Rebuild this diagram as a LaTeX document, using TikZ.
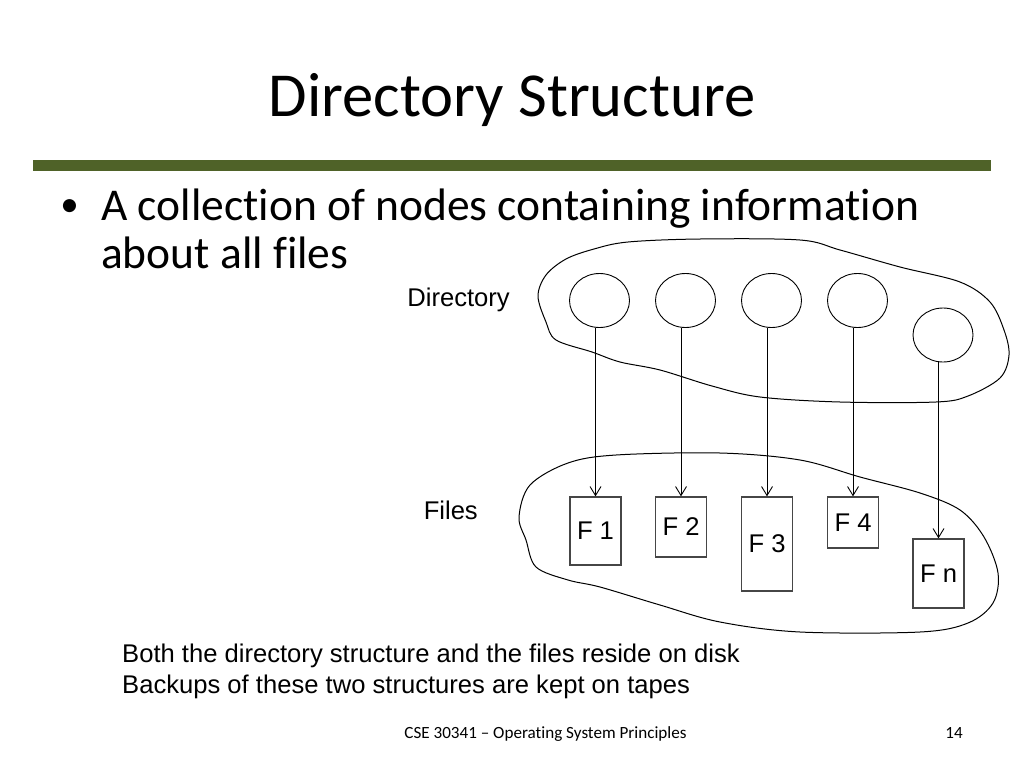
\documentclass[tikz,border=0pt]{standalone}
\usepackage{fontspec}
\setmainfont{Carlito}[Ligatures=NoCommon]
\newfontfamily\arial{Liberation Sans}
\usetikzlibrary{arrows.meta,shapes.geometric}
\definecolor{olivebar}{RGB}{79,98,40}
\definecolor{boxgray}{RGB}{70,70,70}
\tikzset{
  dirnode/.style={ellipse,draw=black,line width=0.9pt,minimum width=60pt,minimum height=54pt,inner sep=0pt},
  filebox/.style={rectangle,draw=boxgray,line width=1.3pt,minimum width=51pt,inner sep=0pt,font=\arial\fontsize{25.6}{30}\selectfont},
  link/.style={line width=0.9pt,-{Straight Barb[length=9pt,width=11pt,line width=0.9pt]}},
  blob/.style={line width=1pt,draw=black},
  armtext/.style={inner sep=0pt,font=\arial\fontsize{25.6}{30}\selectfont},
}
\begin{document}
\begin{tikzpicture}[x=1pt,y=-1pt]
\useasboundingbox[fill=white] (0,0) rectangle (1024,768);
% title
\node[inner sep=0pt,anchor=base,font=\fontsize{62.6}{75}\selectfont] (title) at (512,116) {Directory Structure};
\fill[olivebar] (33,160) rectangle (991,171);
% bullet
\node[inner sep=0pt,anchor=base,font=\fontsize{37}{40}\selectfont] (bul) at (69.5,216) {•};
\node[inner sep=0pt,anchor=base west,font=\fontsize{45.5}{55}\selectfont] (b1) at (101,220) {A collection of nodes containing information};
\node[inner sep=0pt,anchor=base west,font=\fontsize{45.5}{55}\selectfont] (b2) at (101,268) {about all files};
% blobs
\draw[blob] plot[smooth cycle,tension=0.55] coordinates {(538,296) (546,275) (566,259) (594,249) (628,242) (700,239) (800,240) (840,250) (900,267) (960,282) (990,302) (1004,330) (1009,355) (1000,378) (968,396) (936,402) (840,402) (760,397) (712,386) (660,370) (620,362) (592,352) (556,340) (546,322)};
\draw[blob] plot[smooth cycle,tension=0.55] coordinates {(519,517) (530,485) (568,463) (616,455) (720,453) (800,460) (860,477) (920,493) (960,510) (984,537) (998,573) (993,603) (968,623) (920,632) (800,632) (720,622) (660,605) (600,587) (568,580) (536,567) (526,540)};
% labels
\node[armtext,anchor=base east] (dirlab) at (510,306) {Directory};
\node[armtext,anchor=base east] (fileslab) at (478,519) {Files};
% directory nodes
\node[dirnode] (c1) at (599.5,300.5) {};
\node[dirnode] (c2) at (685.5,300.5) {};
\node[dirnode] (c3) at (771.5,300.5) {};
\node[dirnode] (c4) at (857.5,300.5) {};
\node[dirnode] (c5) at (943,335) {};
% files
\node[filebox,minimum height=68pt] (f1) at (595.5,531) {F 1};
\node[filebox,minimum height=60pt] (f2) at (681,527) {F 2};
\node[filebox,minimum height=94pt] (f3) at (767,544) {F 3};
\node[filebox,minimum height=51pt] (f4) at (853,522.5) {F 4};
\node[filebox,minimum height=69pt] (fn) at (938.5,573.5) {F n};
% links
\draw[link] (f1.north |- c1.south) -- (f1.north);
\draw[link] (f2.north |- c2.south) -- (f2.north);
\draw[link] (f3.north |- c3.south) -- (f3.north);
\draw[link] (f4.north |- c4.south) -- (f4.north);
\draw[link] (fn.north |- c5.south) -- (fn.north);
% bottom text
\node[armtext,anchor=base west] (t1) at (122,662) {Both the directory structure and the files reside on disk};
\node[armtext,anchor=base west] (t2) at (122,693) {Backups of these two structures are kept on tapes};
% footer
\node[inner sep=0pt,anchor=base,font=\fontsize{17.1}{20}\selectfont] (foot) at (545.5,738) {CSE 30341 – Operating System Principles};
\node[inner sep=0pt,anchor=base,font=\fontsize{17.1}{20}\selectfont] (page) at (954,738) {14};
\end{tikzpicture}
\end{document}
